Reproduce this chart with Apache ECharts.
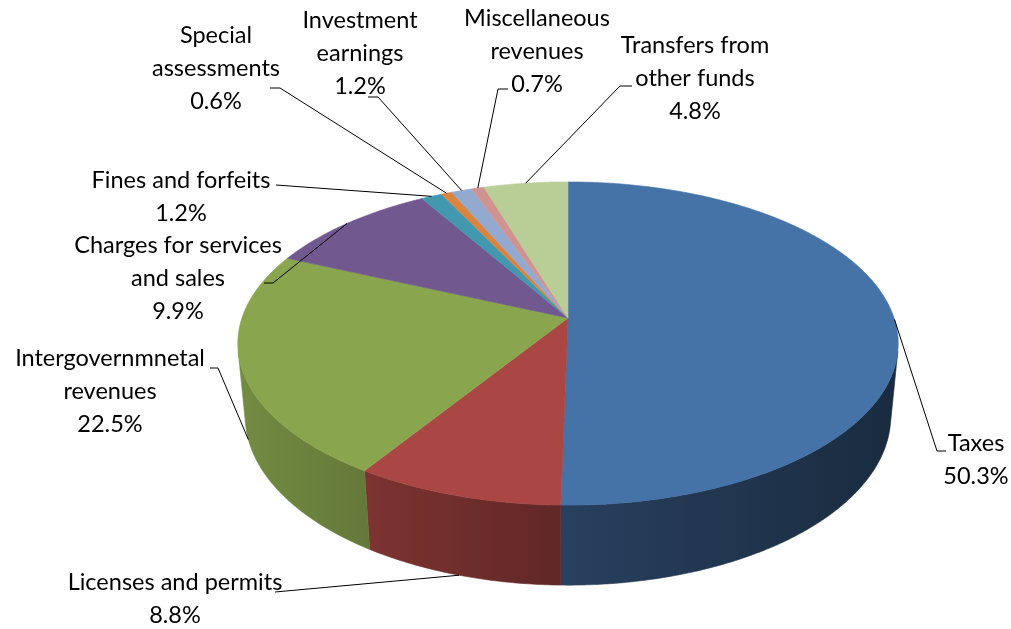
<!DOCTYPE html>
<html>
<head>
<meta charset="utf-8">
<script src="https://cdn.jsdelivr.net/npm/echarts@6/dist/echarts.min.js"></script>
<style>
  html, body { margin: 0; padding: 0; background: #fff; }
  #chart { width: 1011px; height: 629px; }
</style>
</head>
<body>
<div id="chart"></div>
<script>
// data, clockwise from 12 o'clock
const categories = [
  'Taxes',
  'Licenses and permits',
  'Intergovernmnetal\nrevenues',
  'Charges for services\nand sales',
  'Fines and forfeits',
  'Special\nassessments',
  'Investment\nearnings',
  'Miscellaneous\nrevenues',
  'Transfers from\nother funds'
];
const values = [50.3, 8.8, 22.5, 9.9, 1.2, 0.6, 1.2, 0.7, 4.8];

const colors = ['#4572A7', '#AA4643', '#89A54E', '#71588F', '#4198AF', '#DB843D', '#93A9CF', '#D19392', '#B9CD96'];

// label text position (first line centre) and leader elbow / end
const labelLayout = [
  { x: 976, y: 443, elbow: [937, 451], end: [946, 451] },
  { x: 175, y: 582, elbow: [275, 592], end: [275, 592] },
  { x: 110, y: 358, elbow: [218, 368], end: [210, 368] },
  { x: 178, y: 245, elbow: [273, 283], end: [264, 283] },
  { x: 181, y: 180, elbow: [276, 185], end: [276, 185] },
  { x: 216, y: 35, elbow: [280, 88], end: [270, 88] },
  { x: 360, y: 20, elbow: [378, 97], end: [368, 97] },
  { x: 537, y: 18, elbow: [498, 89], end: [508, 89] },
  { x: 695, y: 45, elbow: [620, 86], end: [632, 86] }
];

// 3d view of the pie
const view = {
  cx: 568,
  cy: 318,
  f: 1808,
  D: 5.545,
  tilt: 28.9 * Math.PI / 180,
  depth: 0.257
};

const total = values.reduce((a, b) => a + b, 0);
const startAngles = [];
values.reduce((acc, v, i) => {
  startAngles[i] = acc / total * Math.PI * 2;
  return acc + v;
}, 0);

function project(phi, y, r) {
  if (r === undefined) r = 1;
  const s = Math.sin(view.tilt), c = Math.cos(view.tilt);
  const X = r * Math.sin(phi), Z = -r * Math.cos(phi);
  const u = y * c - Z * s;
  const d = view.D - (Z * c + y * s);
  return [view.cx + view.f * X / d, view.cy - view.f * u / d];
}

// side visible where the outer wall faces the camera
const sideFrom = Math.acos(-1 / (view.D * Math.cos(view.tilt)));
const sideTo = Math.PI * 2 - sideFrom;

function shade(hex, k) {
  const n = parseInt(hex.slice(1), 16);
  const r = Math.round(((n >> 16) & 255) * k);
  const g = Math.round(((n >> 8) & 255) * k);
  const b = Math.round((n & 255) * k);
  return 'rgb(' + r + ',' + g + ',' + b + ')';
}

function sideFill(hex) {
  return new echarts.graphic.LinearGradient(240, 0, 898, 0, [
    { offset: 0, color: shade(hex, 0.84) },
    { offset: 0.5, color: shade(hex, 0.56) },
    { offset: 1, color: shade(hex, 0.38) }
  ], true);
}

function arc(a0, a1, y) {
  const pts = [];
  const n = Math.max(2, Math.ceil((a1 - a0) / (Math.PI / 360)));
  for (let k = 0; k <= n; k++) {
    pts.push(project(a0 + (a1 - a0) * k / n, y));
  }
  return pts;
}

const FONT = '23.5px Lato, "Noto Sans", sans-serif';
const LINE_H = 33;

function renderItem(params, api) {
  const i = params.dataIndex;
  const v = api.value(0);
  const a0 = startAngles[i];
  const a1 = a0 + v / total * Math.PI * 2;
  const children = [];

  // outer wall
  const lo = Math.max(a0, sideFrom), hi = Math.min(a1, sideTo);
  if (hi > lo) {
    const pts = arc(lo, hi, 0).concat(arc(lo, hi, -view.depth).reverse());
    const fill = sideFill(colors[i]);
    children.push({
      type: 'polygon',
      shape: { points: pts },
      style: { fill: fill, stroke: fill, lineWidth: 0.6 },
      z2: 1
    });
  }

  // top face
  const top = [project(0, 0, 0)].concat(arc(a0, a1, 0));
  children.push({
    type: 'polygon',
    shape: { points: top },
    style: { fill: colors[i], stroke: colors[i], lineWidth: 0.6 },
    z2: 2
  });

  // leader line
  const mid = (a0 + a1) / 2;
  const onWall = mid > sideFrom && mid < sideTo;
  const anchor = project(mid, onWall ? -view.depth : 0);
  const lay = labelLayout[i];
  children.push({
    type: 'polyline',
    shape: { points: [anchor, lay.elbow, lay.end] },
    style: { stroke: '#000', lineWidth: 1, fill: null },
    z2: 3
  });

  // label
  children.push({
    type: 'text',
    style: {
      text: categories[i] + '\n' + v.toFixed(1) + '%',
      x: lay.x,
      y: lay.y - LINE_H / 2,
      align: 'center',
      verticalAlign: 'top',
      font: FONT,
      lineHeight: LINE_H,
      fill: '#000'
    },
    z2: 4
  });

  return { type: 'group', children: children };
}

const chart = echarts.init(document.getElementById('chart'));
chart.setOption({
  animation: false,
  backgroundColor: '#fff',
  series: [{
    type: 'custom',
    coordinateSystem: 'none',
    renderItem: renderItem,
    data: values.map((v, i) => ({ name: categories[i], value: [v] }))
  }]
});
</script>
</body>
</html>
